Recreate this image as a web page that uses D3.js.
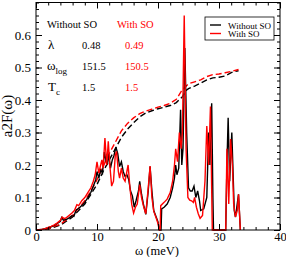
<!DOCTYPE html>
<html>
<head>
<meta charset="utf-8">
<script src="https://cdn.jsdelivr.net/npm/d3@7"></script>
<style>
body { margin: 0; background: #fff; }
</style>
</head>
<body>
<script>
// a2F(omega) without spin-orbit, [omega (meV), value]
const a2fNoSO = [[0,0],[0.5,0.0005],[1,0.002],[1.5,0.004],[2,0.007],[2.5,0.01],[3,0.014],[3.5,0.02],[4,0.027],[4.2,0.038],[4.5,0.03],[5,0.033],[5.5,0.038],[5.9,0.044],[6.2,0.042],[6.6,0.062],[7,0.066],[7.5,0.075],[8,0.085],[8.5,0.1],[9,0.116],[9.5,0.14],[9.8,0.155],[10,0.18],[10.3,0.16],[10.6,0.185],[10.9,0.175],[11.2,0.24],[11.4,0.22],[11.7,0.2],[11.9,0.235],[12.2,0.19],[12.5,0.215],[12.8,0.23],[13.1,0.255],[13.4,0.235],[13.7,0.195],[14,0.21],[14.3,0.18],[14.6,0.165],[14.9,0.17],[15.2,0.155],[15.5,0.12],[15.8,0.105],[16.1,0.07],[16.4,0.09],[16.8,0.12],[17,0.15],[17.3,0.11],[17.6,0.08],[18,0.048],[18.4,0.12],[18.7,0.195],[19,0.12],[19.3,0.06],[19.7,0.04],[20,0.025],[20.25,0],[20.5,0],[20.6,0.065],[21,0.07],[21.5,0.08],[22,0.1],[22.4,0.13],[22.7,0.16],[22.9,0.2],[23.1,0.17],[23.4,0.19],[23.7,0.37],[23.9,0.2],[24.1,0.25],[24.4,0.56],[24.7,0.3],[25,0.13],[25.3,0.12],[25.6,0.12],[25.9,0.135],[26.2,0.1],[26.5,0.12],[26.8,0.09],[27,0.06],[27.5,0.065],[28,0.1],[28.3,0.3],[28.5,0.2],[28.8,0.39],[29,0.1],[29.1,0],[31.1,0],[31.3,0.2],[31.5,0.345],[31.75,0.15],[32.1,0.3],[32.5,0.06],[32.7,0.04],[33.2,0.11],[33.5,0]];

// a2F(omega) with spin-orbit
const a2fSO = [[0,0],[0.5,0.0005],[1,0.002],[1.5,0.004],[2,0.008],[2.5,0.011],[3,0.016],[3.5,0.022],[4,0.03],[4.3,0.04],[4.6,0.035],[5,0.038],[5.5,0.046],[5.9,0.052],[6.3,0.06],[6.7,0.078],[7,0.075],[7.5,0.09],[8,0.1],[8.5,0.115],[9,0.13],[9.4,0.15],[9.7,0.17],[10,0.21],[10.3,0.175],[10.6,0.2],[10.8,0.216],[11,0.19],[11.3,0.283],[11.6,0.2],[11.85,0.273],[12.1,0.2],[12.4,0.135],[12.7,0.15],[13,0.23],[13.2,0.242],[13.5,0.18],[13.7,0.16],[14,0.19],[14.3,0.16],[14.6,0.15],[14.9,0.18],[15.1,0.2],[15.4,0.13],[15.7,0.078],[16,0.052],[16.3,0.07],[16.6,0.08],[17,0.14],[17.3,0.1],[17.6,0.075],[18,0.05],[18.4,0.13],[18.7,0.197],[19,0.1],[19.3,0.058],[19.7,0.037],[20,0.02],[20.2,0],[20.35,0],[20.45,0.075],[21,0.085],[21.5,0.095],[22,0.115],[22.4,0.15],[22.7,0.2],[22.9,0.25],[23.2,0.21],[23.5,0.3],[23.8,0.25],[24,0.3],[24.3,0.66],[24.6,0.25],[24.9,0.1],[25.2,0.092],[25.5,0.09],[25.8,0.085],[26,0.1],[26.3,0.07],[26.6,0.05],[26.9,0.036],[27.3,0.045],[27.7,0.15],[28,0.32],[28.3,0.2],[28.6,0.38],[28.9,0],[31.1,0],[31.3,0.25],[31.6,0.08],[31.9,0.28],[32.2,0.2],[32.4,0.08],[32.7,0.04],[33,0.06],[33.2,0.11],[33.5,0]];

// cumulative lambda(omega), dashed
const lamNoSO = [[0,0],[2,0.003],[4,0.015],[6,0.04],[8,0.08],[9,0.11],[10,0.14],[11,0.18],[12,0.215],[13,0.25],[14,0.285],[15,0.31],[16,0.33],[17,0.348],[18,0.36],[19,0.367],[20,0.373],[21,0.378],[22,0.383],[23,0.392],[24,0.41],[24.5,0.428],[25,0.435],[26,0.443],[27,0.452],[28,0.462],[29,0.468],[30,0.47],[31,0.474],[32,0.484],[32.6,0.488],[33.2,0.49]];
const lamSO = [[0,0],[2,0.004],[4,0.018],[6,0.045],[8,0.09],[9,0.12],[10,0.155],[11,0.195],[12,0.235],[13,0.27],[14,0.305],[15,0.328],[16,0.345],[17,0.358],[18,0.366],[19,0.372],[20,0.378],[21,0.383],[22,0.39],[23,0.402],[24,0.432],[25,0.45],[26,0.456],[27,0.462],[28,0.472],[29,0.478],[30,0.48],[31,0.484],[32,0.488],[33.2,0.494]];

const xTicks = [0, 10, 20, 30, 40];
const yTicks = [0, 0.1, 0.2, 0.3, 0.4, 0.5, 0.6];
const seriesNames = ["Without SO", "With SO"];
const lambdaVals = ["0.48", "0.49"];
const wlogVals = ["151.5", "150.5"];
const tcVals = ["1.5", "1.5"];

const W = 286, H = 257;
const FONT = "'Liberation Serif', 'Times New Roman', serif";
const x = d3.scaleLinear().domain([0, 40]).range([36, 280]);
const y = d3.scaleLinear().domain([0, 0.7]).range([230, 2.5]);

const svg = d3.select("body").append("svg")
    .attr("width", W).attr("height", H)
    .attr("font-family", FONT);

const line = d3.line().x(d => x(d[0])).y(d => y(d[1]));

svg.append("path").datum(lamNoSO).attr("d", line)
    .attr("fill", "none").attr("stroke", "black").attr("stroke-width", 1.4)
    .attr("stroke-dasharray", "6,3");
svg.append("path").datum(lamSO).attr("d", line)
    .attr("fill", "none").attr("stroke", "red").attr("stroke-width", 1.4)
    .attr("stroke-dasharray", "6,3");
svg.append("path").datum(a2fNoSO).attr("d", line)
    .attr("fill", "none").attr("stroke", "black").attr("stroke-width", 1.4);
svg.append("path").datum(a2fSO).attr("d", line)
    .attr("fill", "none").attr("stroke", "red").attr("stroke-width", 1.4);

// axes, ticks point inward on all four sides
const minorX = d3.range(0, 40.01, 2);
const minorY = d3.range(0, 0.7001, 0.02);

function axisGroup(axis, tx, ty, fs) {
    const g = svg.append("g").attr("transform", `translate(${tx},${ty})`).call(axis);
    g.select(".domain").remove();
    g.attr("font-family", FONT).attr("font-size", fs || 13);
    g.selectAll("line").attr("stroke", "black");
    g.selectAll("text").attr("fill", "black");
    return g;
}

axisGroup(d3.axisBottom(x).tickValues(xTicks).tickSize(-6).tickPadding(2), 0, 230, 12.5);
axisGroup(d3.axisBottom(x).tickValues(minorX).tickSize(-3).tickFormat(""), 0, 230);
axisGroup(d3.axisTop(x).tickValues(xTicks).tickSize(-6).tickFormat(""), 0, 2.5);
axisGroup(d3.axisTop(x).tickValues(minorX).tickSize(-3).tickFormat(""), 0, 2.5);
axisGroup(d3.axisLeft(y).tickValues(yTicks).tickSize(-6).tickPadding(5)
    .tickFormat(d => d === 0 ? "0" : d3.format(".1f")(d)), 36, 0);
axisGroup(d3.axisLeft(y).tickValues(minorY).tickSize(-3).tickFormat(""), 36, 0);
axisGroup(d3.axisRight(y).tickValues(yTicks).tickSize(-6).tickFormat(""), 280, 0);
axisGroup(d3.axisRight(y).tickValues(minorY).tickSize(-3).tickFormat(""), 280, 0);

svg.append("rect").attr("x", 36).attr("y", 2.5).attr("width", 244).attr("height", 227.5)
    .attr("fill", "none").attr("stroke", "black").attr("stroke-width", 1);

// axis titles
svg.append("text").attr("x", 157).attr("y", 255).attr("text-anchor", "middle")
    .attr("font-size", 12.5).text("ω  (meV)");
svg.append("text").attr("transform", "translate(12,116) rotate(-90)")
    .attr("text-anchor", "middle").attr("font-size", 15).text("a2F(ω)");

// parameter table
const colors = ["black", "red"];
const colX = [82, 125];
svg.append("text").attr("x", 47).attr("y", 28).attr("font-size", 10.5).text(seriesNames[0]);
svg.append("text").attr("x", 117).attr("y", 28).attr("font-size", 10.5).attr("fill", "red").text(seriesNames[1]);
svg.append("text").attr("x", 48).attr("y", 49).attr("font-size", 13).text("λ");
const wl = svg.append("text").attr("x", 47).attr("y", 70).attr("font-size", 13);
wl.append("tspan").text("ω");
wl.append("tspan").attr("dy", 4).attr("font-size", 9).text("log");
const tc = svg.append("text").attr("x", 48).attr("y", 91).attr("font-size", 13);
tc.append("tspan").text("T");
tc.append("tspan").attr("dy", 4).attr("font-size", 9).text("c");
[lambdaVals, wlogVals, tcVals].forEach((vals, r) => {
    vals.forEach((v, i) => {
        svg.append("text").attr("x", colX[i]).attr("y", 49 + r * 21)
            .attr("font-size", 10.5).attr("fill", colors[i]).text(v);
    });
});

// legend
const lg = svg.append("g");
lg.append("rect").attr("x", 205).attr("y", 17).attr("width", 69).attr("height", 23)
    .attr("fill", "white").attr("stroke", "black").attr("stroke-width", 0.8);
seriesNames.forEach((n, i) => {
    const yy = 25 + i * 8.5;
    lg.append("line").attr("x1", 210).attr("x2", 221).attr("y1", yy).attr("y2", yy)
        .attr("stroke", colors[i]).attr("stroke-width", 1.4);
    lg.append("text").attr("x", 228).attr("y", yy + 3.5).attr("font-size", 9).text(n);
});
</script>
</body>
</html>
